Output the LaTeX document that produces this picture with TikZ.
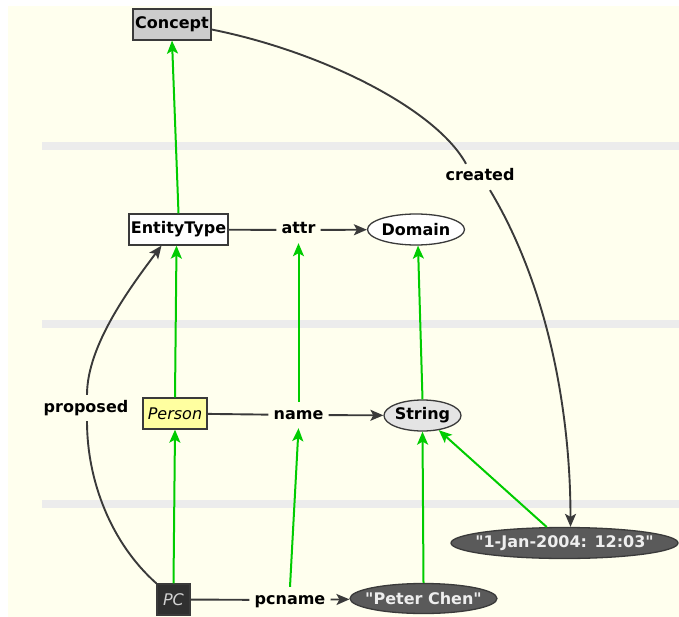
\documentclass[tikz,border=0pt]{standalone}
\usepackage{fontspec}
\setmainfont{DejaVu Sans}[Ligatures=TeXOff]
\usetikzlibrary{arrows.meta,shapes.geometric}

\definecolor{canvasbg}{RGB}{255,255,238}
\definecolor{bandgray}{RGB}{236,236,236}
\definecolor{edgegray}{RGB}{58,58,58}
\definecolor{isagreen}{RGB}{0,204,0}
\definecolor{conceptgray}{RGB}{204,204,204}
\definecolor{personyellow}{RGB}{255,255,160}
\definecolor{stringgray}{RGB}{228,228,228}
\definecolor{literalgray}{RGB}{90,90,90}
\definecolor{instdark}{RGB}{48,48,48}
\definecolor{lighttext}{RGB}{238,238,238}
\definecolor{pctext}{RGB}{210,210,210}

% text of a fixed-size ellipse, kept out of the shape's size computation
\newcommand\midtext[1]{\makebox[0pt]{#1}}

\begin{document}
\begin{tikzpicture}[x=1pt,y=-1pt,
  basefont/.style={font=\fontsize{16}{19}\selectfont},
  box/.style={basefont,draw=edgegray,line width=1.3pt,rectangle,inner sep=1pt},
  oval/.style={basefont,draw=edgegray,line width=1.3pt,ellipse,inner sep=0pt},
  lbl/.style={basefont,inner xsep=5pt,inner ysep=6pt,text height=11pt,text depth=3pt},
  tip/.style={-{Stealth[length=13pt,width=11pt,inset=3pt]}},
  link/.style={draw=edgegray,line width=1.9pt},
  arr/.style={link,tip},
  isa/.style={draw=isagreen,line width=2pt,tip}]

\useasboundingbox (0,0) rectangle (679,617);
\fill[canvasbg] (8,6) rectangle (679,617);

% layer separators
\fill[bandgray] (42,142) rectangle (679,150);
\fill[bandgray] (42,320) rectangle (679,328);
\fill[bandgray] (42,500) rectangle (679,508);

% nodes
\node[box,fill=conceptgray,minimum width=78pt,minimum height=31pt] (con) at (172,24.5) {\bfseries Concept};
\node[box,fill=white,minimum width=99pt,minimum height=31pt] (et) at (178.5,229.5) {\bfseries EntityType};
\node[oval,fill=white,minimum width=97pt,minimum height=31pt] (dom) at (416,229.5) {\midtext{\bfseries Domain}};
\node[box,fill=personyellow,minimum width=64pt,minimum height=31pt] (per) at (175,413.5) {\itshape Person};
\node[oval,fill=stringgray,minimum width=77pt,minimum height=31pt] (str) at (422.5,415.5) {\midtext{\bfseries String}};
\node[box,fill=instdark,text=pctext,minimum width=33pt,minimum height=31pt] (pc) at (173.5,599.5) {\itshape PC};
\node[oval,fill=literalgray,text=lighttext,minimum width=147pt,minimum height=30pt] (pete) at (423.5,598.5) {\midtext{\bfseries "Peter Chen"}};
\node[oval,fill=literalgray,text=lighttext,minimum width=227pt,minimum height=31pt] (jan) at (564.5,543) {\midtext{\bfseries "1-Jan-2004: 12:03"}};

% relation labels
\node[lbl] (attr) at (298.5,230) {\bfseries attr};
\node[lbl] (nm) at (298.5,415) {\bfseries name};
\node[lbl] (pcn) at (290,600) {\bfseries pcname};
\node[lbl] (cr) at (480,177) {\bfseries created};
\node[lbl] (prop) at (86,408) {\bfseries proposed};

% relations
\draw[link] (et) -- (attr);
\draw[arr] (attr) -- (dom);
\draw[link] (per) -- (nm);
\draw[arr] (nm) -- (str);
\draw[link] (pc) -- (pcn);
\draw[arr] (pcn) -- (pete);

\draw[link] ([yshift=-5pt]con.east) .. controls +(110,22) and +(-30,-55) .. ([xshift=-14pt]cr.north);
\draw[arr] ([xshift=10pt]cr.south) .. controls +(60,100) and +(0,-110) .. ([xshift=6pt]jan.north);

\draw[link] (pc.north west) .. controls +(-45,-40) and +(0,60) .. ([xshift=1pt]prop.south);
\draw[arr] ([xshift=1pt]prop.north) .. controls +(0,-50) and +(-30,40) .. ([xshift=-17pt]et.south);

% instance-of / subtype links
\draw[isa] (et.north) -- (con.south);
\draw[isa] (per.north) -- ([xshift=-2pt]et.south);
\draw[isa] (pc.north) -- (per.south);
\draw[isa] (nm.north) -- (attr.south);
\draw[isa] (pcn.north) -- (nm.south);
\draw[isa] (str.north) -- ([xshift=2pt]dom.south);
\draw[isa] (pete.north) -- (str.south);
\draw[isa] (jan) -- (str);
\end{tikzpicture}
\end{document}
